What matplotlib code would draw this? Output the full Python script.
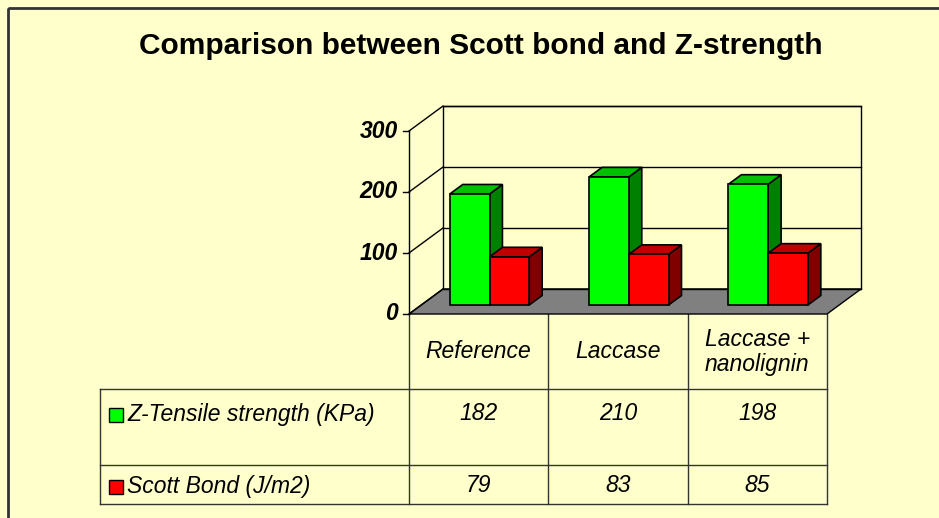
import matplotlib.pyplot as plt
from matplotlib.patches import Polygon, Rectangle

# data
categories = ["Reference", "Laccase", "Laccase +\nnanolignin"]
series_names = ["Z-Tensile strength (KPa)", "Scott Bond (J/m2)"]
z_tensile = [182, 210, 198]
scott_bond = [79, 83, 85]
yticks = [0, 100, 200, 300]

series = [z_tensile, scott_bond]
# front / top / side colours of each series
colors = [("#00FF00", "#00C000", "#008000"),
          ("#FF0000", "#C00000", "#800000")]
bg = "#FFFFCC"

W, H = 939, 518
fig = plt.figure(figsize=(W / 100, H / 100), dpi=100)
fig.patch.set_facecolor(bg)
plt.rcParams["font.family"] = ["Liberation Sans", "DejaVu Sans"]

# overlay axes in pixel coords for border, title and table
tab = fig.add_axes([0, 0, 1, 1])
tab.set_xlim(0, W)
tab.set_ylim(H, 0)
tab.axis("off")
tab.add_patch(Rectangle((8, 8), W + 10, H + 10, fill=False, ec="#333333", lw=2))

tab.text(481, 46, "Comparison between Scott bond and Z-strength",
         ha="center", va="center", fontsize=21.5, fontweight="bold")

# plot area (front plane of the 3D box) in pixels
front_left, front_right = 409, 827
y_zero, y_top = 314, 131
ax = fig.add_axes([front_left / W, 1 - y_zero / H,
                   (front_right - front_left) / W, (y_zero - y_top) / H])
n = len(categories)
ax.set_xlim(0, n)
ax.set_ylim(0, yticks[-1])
ax.axis("off")

# depth offset of the 3D box in data units
dx = 34 / ((front_right - front_left) / n)
dy = 25 / ((y_zero - y_top) / yticks[-1])
ymax = yticks[-1]

# back wall and gridlines
ax.add_patch(Polygon([(dx, dy), (n + dx, dy), (n + dx, ymax + dy), (dx, ymax + dy)],
                     closed=True, fc=bg, ec="black", lw=1, clip_on=False))
for v in yticks:
    ax.plot([0, dx], [v, v + dy], color="black", lw=1, clip_on=False)
    ax.plot([dx, n + dx], [v + dy, v + dy], color="black", lw=1, clip_on=False)
    ax.plot([-0.045, 0], [v, v], color="black", lw=1, clip_on=False)
    ax.text(-0.08, v, str(v), ha="right", va="center", fontsize=16.5,
            fontweight="bold", fontstyle="italic")
ax.plot([0, 0], [0, ymax], color="black", lw=1, clip_on=False)

# floor
ax.add_patch(Polygon([(0, 0), (n, 0), (n + dx, dy), (dx, dy)], closed=True,
                     fc="#808080", ec="black", lw=1, clip_on=False))

# bars
bw = 0.285
center = 0.49
f0, f1 = 0.36, 0.74
for i in range(n):
    for j, vals in enumerate(series):
        v = vals[i]
        xl = i + center - bw + j * bw
        xr = xl + bw
        front_c, top_c, side_c = colors[j]
        side = [(xr + f0 * dx, f0 * dy), (xr + f1 * dx, f1 * dy),
                (xr + f1 * dx, v + f1 * dy), (xr + f0 * dx, v + f0 * dy)]
        top = [(xl + f0 * dx, v + f0 * dy), (xr + f0 * dx, v + f0 * dy),
               (xr + f1 * dx, v + f1 * dy), (xl + f1 * dx, v + f1 * dy)]
        front = [(xl + f0 * dx, f0 * dy), (xr + f0 * dx, f0 * dy),
                 (xr + f0 * dx, v + f0 * dy), (xl + f0 * dx, v + f0 * dy)]
        for pts, c in [(side, side_c), (top, top_c), (front, front_c)]:
            ax.add_patch(Polygon(pts, closed=True, fc=c, ec="black", lw=1.2,
                                 clip_on=False, zorder=3))

# data table under the chart
cw = (front_right - front_left) / n
table_left = 100
row_lines = [389, 465, 504]
lc = "#333333"
for k in range(n + 1):
    x = front_left + k * cw
    tab.plot([x, x], [y_zero, row_lines[-1]], color=lc, lw=1)
tab.plot([table_left, table_left], [row_lines[0], row_lines[-1]], color=lc, lw=1)
for y in row_lines:
    tab.plot([table_left, front_right], [y, y], color=lc, lw=1)

for i, cat in enumerate(categories):
    tab.text(front_left + (i + 0.5) * cw, 352, cat, ha="center", va="center",
             fontsize=16.5, fontstyle="italic", linespacing=1.15)

row_y = [415, 487]
for j, name in enumerate(series_names):
    y = row_y[j]
    tab.add_patch(Rectangle((109, y - 7), 14, 14, fc=colors[j][0], ec="black", lw=1))
    tab.text(127, y, name, ha="left", va="center", fontsize=16.5, fontstyle="italic")
    for i in range(n):
        tab.text(front_left + (i + 0.5) * cw, y - 2, str(series[j][i]),
                 ha="center", va="center", fontsize=16.5, fontstyle="italic")

plt.savefig("out.png", dpi=100, facecolor=bg)
